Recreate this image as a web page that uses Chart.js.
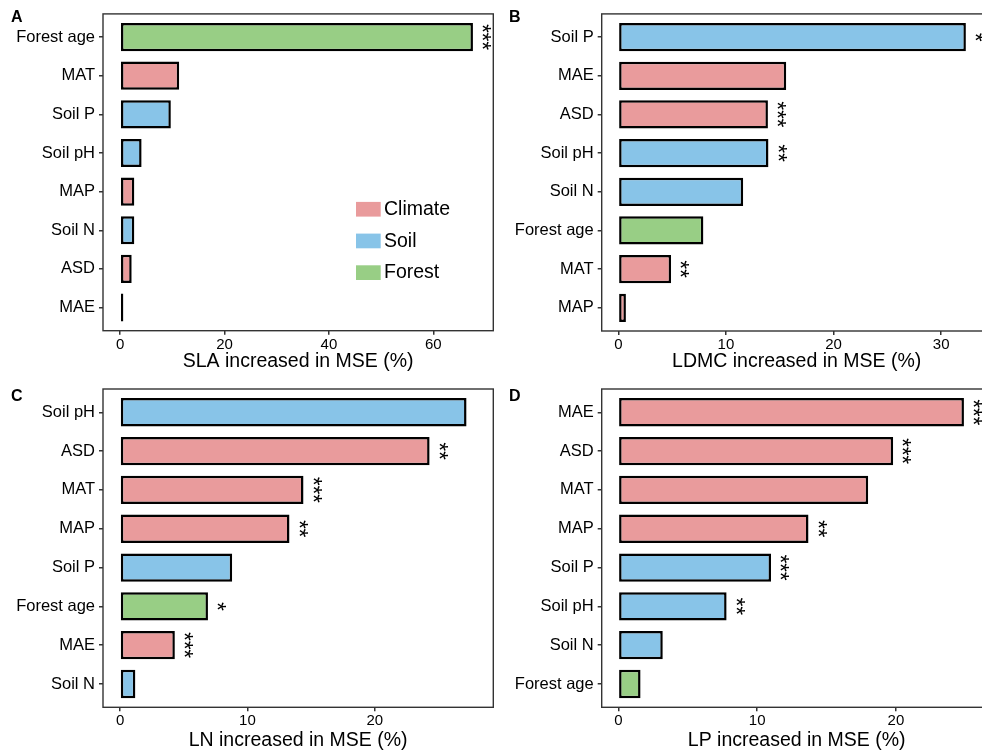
<!DOCTYPE html>
<html>
<head>
<meta charset="utf-8">
<script src="https://cdn.jsdelivr.net/npm/chart.js@4.4.1/dist/chart.umd.min.js"></script>
<style>
  html, body { margin: 0; padding: 0; background: #fff; overflow: hidden; }
  #page { position: relative; width: 982px; height: 756px; overflow: hidden; background: #fff; }
  .panel { position: absolute; }
  .tag { position: absolute; font: bold 16px "Liberation Sans", Arial, sans-serif; color: #000; }
</style>
</head>
<body>
<div id="page">
  <canvas class="panel" id="chartA" width="495" height="375" style="left:0;top:0"></canvas>
  <canvas class="panel" id="chartB" width="510" height="375" style="left:490px;top:0"></canvas>
  <canvas class="panel" id="chartC" width="495" height="381" style="left:0;top:375px"></canvas>
  <canvas class="panel" id="chartD" width="510" height="381" style="left:490px;top:375px"></canvas>
  <div class="tag" style="left:11px;top:8px">A</div>
  <div class="tag" style="left:509px;top:8px">B</div>
  <div class="tag" style="left:11px;top:387px">C</div>
  <div class="tag" style="left:509px;top:387px">D</div>
</div>
<script>
// group colours
const groups = ['Climate', 'Soil', 'Forest'];
const groupColors = { Climate: '#E99B9C', Soil: '#88C4E8', Forest: '#98CE85' };

// A - SLA
const catsA = ['Forest age', 'MAT', 'Soil P', 'Soil pH', 'MAP', 'Soil N', 'ASD', 'MAE'];
const valsA = [67.6, 11.3, 9.7, 4.1, 2.7, 2.7, 2.2, 0.6];
const grpA = ['Forest', 'Climate', 'Soil', 'Soil', 'Climate', 'Soil', 'Climate', 'Climate'];
const sigA = ['***', '', '', '', '', '', '', ''];
const ticksA = [0, 20, 40, 60];

// B - LDMC
const catsB = ['Soil P', 'MAE', 'ASD', 'Soil pH', 'Soil N', 'Forest age', 'MAT', 'MAP'];
const valsB = [32.3, 15.6, 13.9, 13.95, 11.6, 7.9, 4.9, 0.7];
const grpB = ['Soil', 'Climate', 'Climate', 'Soil', 'Soil', 'Forest', 'Climate', 'Climate'];
const sigB = ['*', '', '***', '**', '', '', '**', ''];
const ticksB = [0, 10, 20, 30];

// C - LN
const catsC = ['Soil pH', 'ASD', 'MAT', 'MAP', 'Soil P', 'Forest age', 'MAE', 'Soil N'];
const valsC = [27.2, 24.3, 14.4, 13.3, 8.8, 6.9, 4.3, 1.2];
const grpC = ['Soil', 'Climate', 'Climate', 'Climate', 'Soil', 'Forest', 'Climate', 'Soil'];
const sigC = ['', '**', '***', '**', '', '*', '***', ''];
const ticksC = [0, 10, 20];

// D - LP
const catsD = ['MAE', 'ASD', 'MAT', 'MAP', 'Soil P', 'Soil pH', 'Soil N', 'Forest age'];
const valsD = [24.9, 19.8, 18.0, 13.7, 11.0, 7.8, 3.2, 1.6];
const grpD = ['Climate', 'Climate', 'Climate', 'Climate', 'Soil', 'Soil', 'Soil', 'Forest'];
const sigD = ['***', '***', '', '**', '***', '**', '', ''];
const ticksD = [0, 10, 20];

Chart.defaults.font.family = '"Liberation Sans", Arial, sans-serif';
Chart.defaults.color = '#000';

const frame = {
  id: 'frame',
  afterDraw(chart, args, opts) {
    const { ctx, chartArea: a } = chart;
    ctx.save();
    ctx.strokeStyle = '#333';
    ctx.lineWidth = 1.4;
    ctx.strokeRect(a.left, a.top, a.right - a.left, a.bottom - a.top);

    // significance stars, stacked vertically right of each bar
    const meta = chart.getDatasetMeta(0);
    ctx.fillStyle = '#000';
    ctx.font = '23px "Liberation Sans", Arial, sans-serif';
    ctx.textAlign = 'center';
    ctx.textBaseline = 'middle';
    (opts.sig || []).forEach((s, i) => {
      if (!s) return;
      const bar = meta.data[i];
      for (let k = 0; k < s.length; k++) {
        ctx.save();
        ctx.translate(bar.x + 7.5, bar.y + (k - (s.length - 1) / 2) * 8.6);
        ctx.rotate(Math.PI / 2);
        ctx.fillText('*', 0, 0);
        ctx.restore();
      }
    });

    // legend inside panel A
    if (opts.legend) {
      ctx.font = '19.5px "Liberation Sans", Arial, sans-serif';
      ctx.textAlign = 'left';
      groups.forEach((g, i) => {
        const x = a.left + 253, y = a.top + 188 + i * 31.7;
        ctx.fillStyle = groupColors[g];
        ctx.fillRect(x, y, 24.7, 14.7);
        ctx.fillStyle = '#000';
        ctx.fillText(g, x + 28, y + 7.6);
      });
    }
    ctx.restore();
  }
};

function makeChart(id, cats, vals, grp, sig, ticks, xmin, xmax, title, box, legend) {
  return new Chart(document.getElementById(id), {
    type: 'bar',
    data: {
      datasets: [{
        data: vals.map((v, i) => ({ x: v, y: i })),
        backgroundColor: grp.map(g => groupColors[g]),
        borderColor: '#000',
        borderWidth: 2.5,
        borderSkipped: false,
        categoryPercentage: 1,
        barPercentage: 0.73
      }]
    },
    options: {
      indexAxis: 'y',
      responsive: false,
      animation: false,
      devicePixelRatio: 1,
      layout: { padding: { left: 0, top: box.top, right: box.right, bottom: 0 } },
      plugins: {
        legend: { display: false },
        tooltip: { enabled: false },
        frame: { sig: sig, legend: legend }
      },
      scales: {
        y: {
          type: 'linear',
          reverse: true,
          min: -0.6,
          max: cats.length - 0.4,
          offset: false,
          afterBuildTicks: s => { s.ticks = cats.map((c, i) => ({ value: i })); },
          afterFit: s => { s.width = box.left; },
          ticks: {
            callback: v => cats[v],
            font: { size: 16.5 },
            color: '#000',
            padding: 4,
            autoSkip: false
          },
          grid: {
            display: true, drawOnChartArea: false, drawTicks: true,
            tickLength: 4, color: '#333', lineWidth: 1.5, offset: false
          },
          border: { display: false }
        },
        x: {
          type: 'linear',
          min: xmin,
          max: xmax,
          afterBuildTicks: s => { s.ticks = ticks.map(v => ({ value: v })); },
          afterFit: s => { s.height = box.h; },
          ticks: { font: { size: 15 }, color: '#000', padding: 1, autoSkip: false, maxRotation: 0 },
          grid: {
            display: true, drawOnChartArea: false, drawTicks: true,
            tickLength: 4, color: '#333', lineWidth: 1.5
          },
          border: { display: false },
          title: {
            display: true, text: title, color: '#000',
            font: { size: 19.5 }, padding: { top: 0, bottom: box.tp }
          }
        }
      }
    },
    plugins: [frame]
  });
}

makeChart('chartA', catsA, valsA, grpA, sigA, ticksA, -3.3, 71.5,
  'SLA increased in MSE (%)', { left: 103, top: 10, right: 1.7, h: 44.3, tp: 1.8 }, true);
makeChart('chartB', catsB, valsB, grpB, sigB, ticksB, -1.55, 34.7,
  'LDMC increased in MSE (%)', { left: 111.7, top: 10, right: 8.3, h: 44, tp: 1.8 }, false);
makeChart('chartC', catsC, valsC, grpC, sigC, ticksC, -1.34, 29.3,
  'LN increased in MSE (%)', { left: 103, top: 14, right: 1.7, h: 48.7, tp: 3.8 }, false);
makeChart('chartD', catsD, valsD, grpD, sigD, ticksD, -1.2, 26.9,
  'LP increased in MSE (%)', { left: 111.7, top: 14, right: 8.3, h: 48.7, tp: 3.8 }, false);
</script>
</body>
</html>
